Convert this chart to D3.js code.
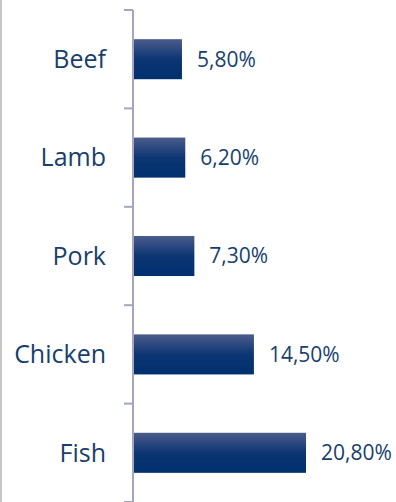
<!DOCTYPE html>
<html>
<head>
<meta charset="utf-8">
<script src="https://cdn.jsdelivr.net/npm/d3@7"></script>
<style>
  body { margin: 0; background: #fff; }
  svg { display: block; }
</style>
</head>
<body>
<svg id="chart" width="396" height="502"></svg>
<script>
// *** Data ***
var categories = ["Beef", "Lamb", "Pork", "Chicken", "Fish"];
var values = [5.8, 6.2, 7.3, 14.5, 20.8];
var valueLabels = ["5,80%", "6,20%", "7,30%", "14,50%", "20,80%"];

var textColor = "#17406d";
var axisColor = "#a3a6bd";

var chart = d3.select("#chart");

var axisX = 133;

// band layout: ticks sit on band boundaries, bars are 40px high in a ~98px step
var y = d3.scaleBand()
    .domain(categories)
    .range([10, 502])
    .paddingInner(0.593)
    .paddingOuter(0.2965);

var x = d3.scaleLinear()
    .domain([0, 25])
    .range([axisX + 1, axisX + 1 + 25 * 8.27]);

// gradient for the bars (lighter at the top)
var defs = chart.append("defs");
var grad = defs.append("linearGradient")
    .attr("id", "barGrad")
    .attr("x1", 0).attr("y1", 0).attr("x2", 0).attr("y2", 1);
grad.append("stop").attr("offset", "0%").attr("stop-color", "#4c5c8b");
grad.append("stop").attr("offset", "50%").attr("stop-color", "#0c3573");
grad.append("stop").attr("offset", "100%").attr("stop-color", "#00306e");

// left frame border
chart.append("rect")
    .attr("x", 0).attr("y", 0)
    .attr("width", 2).attr("height", 502)
    .attr("fill", "#c6c6c6");

var data = categories.map(function (c, i) {
    return {name: c, value: values[i], label: valueLabels[i]};
});

// bars
chart.selectAll(".bar")
    .data(data)
    .enter().append("rect")
    .attr("class", "bar")
    .attr("x", x(0))
    .attr("y", d => y(d.name))
    .attr("width", d => x(d.value) - x(0))
    .attr("height", y.bandwidth())
    .attr("fill", "url(#barGrad)");

// vertical axis line + ticks at band boundaries
var step = y.step();
var bounds = categories.map(c => y(c) - y.paddingInner() * step / 2);
bounds.push(y.range()[1]);

chart.append("line")
    .attr("x1", axisX).attr("x2", axisX)
    .attr("y1", y.range()[0]).attr("y2", y.range()[1])
    .attr("stroke", axisColor)
    .attr("stroke-width", 2);

chart.selectAll(".tick")
    .data(bounds)
    .enter().append("line")
    .attr("class", "tick")
    .attr("x1", axisX - 9).attr("x2", axisX)
    .attr("y1", d => d).attr("y2", d => d)
    .attr("stroke", axisColor)
    .attr("stroke-width", 2);

// category labels
chart.selectAll(".cat")
    .data(data)
    .enter().append("text")
    .attr("class", "cat")
    .attr("x", 106)
    .attr("y", d => y(d.name) + y.bandwidth() / 2)
    .attr("dy", "0.35em")
    .attr("text-anchor", "end")
    .attr("font-family", "'Open Sans', sans-serif")
    .attr("font-size", 25)
    .attr("fill", textColor)
    .text(d => d.name);

// value labels
chart.selectAll(".val")
    .data(data)
    .enter().append("text")
    .attr("class", "val")
    .attr("x", d => x(d.value) + 15)
    .attr("y", d => y(d.name) + y.bandwidth() / 2)
    .attr("dy", "0.35em")
    .attr("font-family", "'Open Sans', sans-serif")
    .attr("font-size", 21)
    .attr("fill", textColor)
    .text(d => d.label);
</script>
</body>
</html>
